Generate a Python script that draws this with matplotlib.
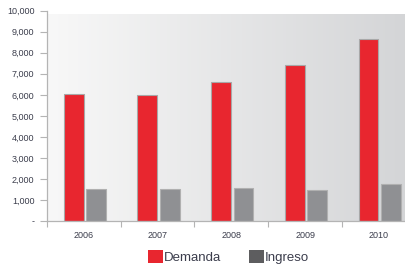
import numpy as np
import matplotlib
matplotlib.use("Agg")
import matplotlib.pyplot as plt
from matplotlib.patches import Patch

plt.rcParams['font.family'] = ['Liberation Sans', 'DejaVu Sans']

years = ['2006', '2007', '2008', '2009', '2010']
demanda = [6030, 6000, 6620, 7420, 8660]
ingreso = [1540, 1510, 1590, 1460, 1780]
yticks = [0, 1000, 2000, 3000, 4000, 5000, 6000, 7000, 8000, 9000, 10000]
ytick_labels = ['-', '1,000', '2,000', '3,000', '4,000', '5,000',
                '6,000', '7,000', '8,000', '9,000', '10,000']

red = '#e8262f'
gray = '#8f9093'
legend_gray = '#5d5d5f'
text_col = '#3b3d4c'
spine_col = '#b4b4b4'

W, H = 406, 266
fig = plt.figure(figsize=(W / 100, H / 100), dpi=100)
# axes runs past the right edge, the original is cropped there
ax = fig.add_axes([47 / W, 1 - 221 / H, (415.7 - 47) / W, (221 - 10.7) / H])

x = np.arange(len(years))
ax.set_xlim(-0.5, len(years) - 0.5)
ax.set_ylim(0, 10000)

# gradient background (white-ish left, light gray right)
grad = np.linspace(0, 1, 256).reshape(1, -1)
cmap = matplotlib.colors.LinearSegmentedColormap.from_list('bg', ['#f8f8f8', '#d3d4d6'])
ax.imshow(grad, cmap=cmap, aspect='auto', extent=[-0.5, 4.5, 0, 9800],
          zorder=0, interpolation='bicubic')

ax.bar(x - 0.14, demanda, width=0.27, color=red, edgecolor='#a8a8a8',
       linewidth=0.8, zorder=2)
ax.bar(x + 0.165, ingreso, width=0.27, color=gray, edgecolor='#b0b0b0',
       linewidth=0.8, zorder=2)

ax.set_yticks(yticks)
ax.set_yticklabels(ytick_labels)
ax.set_xticks(x)
ax.set_xticklabels(years)
ax.set_xticks(np.arange(len(years) + 1) - 0.5, minor=True)
ax.tick_params(axis='x', which='major', length=0, pad=7, labelsize=6.5,
               labelcolor=text_col)
ax.tick_params(axis='x', which='minor', length=4, color=spine_col, width=0.8)
ax.tick_params(axis='y', length=5, color=spine_col, width=0.8, pad=4,
               labelsize=6.5, labelcolor=text_col)

for s in ['top', 'right']:
    ax.spines[s].set_visible(False)
for s in ['left', 'bottom']:
    ax.spines[s].set_color(spine_col)
    ax.spines[s].set_linewidth(0.9)

handles = [Patch(facecolor=red, edgecolor='none', label='Demanda'),
           Patch(facecolor=legend_gray, edgecolor='none', label='Ingreso')]
leg = fig.legend(handles=handles, loc='lower left',
                 bbox_to_anchor=(143 / W, -0.012), ncol=2, frameon=False,
                 fontsize=9.5, handlelength=1.1, handleheight=1.1,
                 handletextpad=0.1, columnspacing=2.1, borderaxespad=0.0)
for t in leg.get_texts():
    t.set_color(text_col)

fig.savefig('out.png', dpi=100)
